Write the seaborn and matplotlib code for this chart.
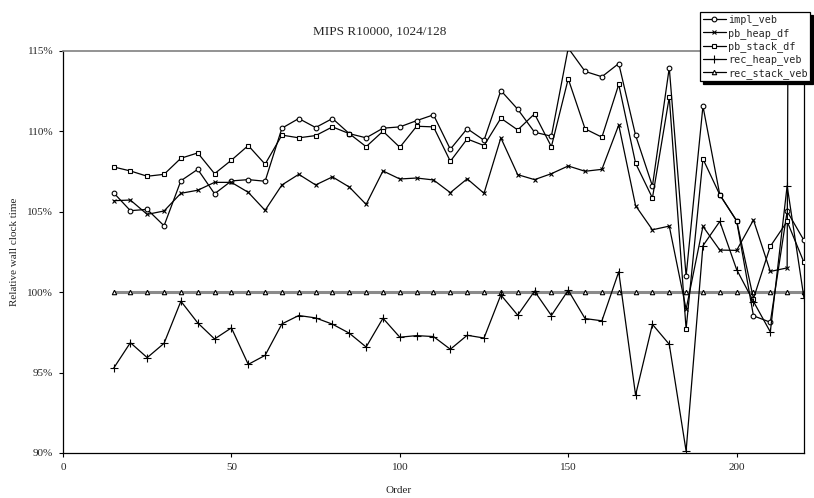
import matplotlib
matplotlib.use("Agg")
import matplotlib.pyplot as plt
from matplotlib.lines import Line2D
import seaborn as sns

# Problem order (x axis)
orders = list(range(15, 225, 5))

# Relative wall clock time (%) per layout variant
impl_veb = [106.19, 105.07, 105.15, 104.13, 106.93, 107.64, 106.12, 106.92, 107.00, 106.90,
            110.20, 110.80, 110.24, 110.80, 109.86, 109.60, 110.20, 110.28, 110.67, 111.03,
            108.89, 110.17, 109.45, 112.54, 111.38, 109.95, 109.70, 115.18, 113.73, 113.40,
            114.22, 109.76, 106.60, 113.96, 101.00, 111.57, 106.06, 104.44, 98.53, 98.13,
            105.03, 103.22]
pb_heap_df = [105.69, 105.73, 104.84, 105.05, 106.15, 106.34, 106.83, 106.83, 106.21, 105.09,
              106.67, 107.33, 106.67, 107.17, 106.54, 105.46, 107.54, 107.04, 107.10, 106.98,
              106.19, 107.05, 106.15, 109.60, 107.31, 107.00, 107.37, 107.85, 107.52, 107.64,
              110.40, 105.38, 103.88, 104.11, 98.94, 104.09, 102.62, 102.60, 104.49, 101.29,
              101.51, 400.0]
pb_stack_df = [107.79, 107.54, 107.21, 107.33, 108.33, 108.66, 107.37, 108.21, 109.12, 107.96,
               109.77, 109.60, 109.74, 110.28, 109.86, 109.05, 110.01, 109.01, 110.32, 110.28,
               108.14, 109.53, 109.12, 110.82, 110.09, 111.09, 109.05, 113.27, 110.16, 109.64,
               112.92, 108.02, 105.86, 112.13, 97.71, 108.29, 106.06, 104.44, 99.60, 102.85,
               104.40, 101.85]
rec_heap_veb = [95.26, 96.86, 95.93, 96.82, 99.44, 98.09, 97.09, 97.78, 95.51, 96.07,
                98.03, 98.55, 98.40, 98.01, 97.45, 96.59, 98.38, 97.20, 97.30, 97.24,
                96.45, 97.32, 97.15, 99.83, 98.57, 100.06, 98.55, 100.12, 98.36, 98.22,
                101.27, 93.60, 98.00, 96.76, 90.12, 102.89, 104.40, 101.41, 99.42, 97.53,
                106.62, 99.63]
rec_stack_veb = [100.0] * len(orders)

series_names = ["impl_veb", "pb_heap_df", "pb_stack_df", "rec_heap_veb", "rec_stack_veb"]
series_values = [impl_veb, pb_heap_df, pb_stack_df, rec_heap_veb, rec_stack_veb]
series_markers = ["o", "x", "s", "+", "^"]
series_msize = [3.4, 3.4, 3.4, 5.4, 3.2]

y_ticks = [90, 95, 100, 105, 110, 115]
y_tick_labels = [f"{v}%" for v in y_ticks]
x_ticks = [0, 50, 100, 150, 200]

sns.set_style("white")
plt.rcParams["font.family"] = ["Liberation Serif", "DejaVu Serif"]

fig = plt.figure(figsize=(8.14, 4.98), dpi=100)
ax = fig.add_axes([0.0774, 0.0904, 0.9103, 0.8072])

for name, vals, mk, ms in zip(series_names, series_values, series_markers, series_msize):
    is_ref = name == "rec_stack_veb"
    sns.lineplot(x=orders, y=vals, ax=ax, sort=False, estimator=None,
                 color="#8a8a8a" if is_ref else "black",
                 linewidth=2.2 if is_ref else 0.9,
                 marker=mk, markersize=ms, markerfacecolor="white",
                 markeredgecolor="black", markeredgewidth=0.8,
                 zorder=2 if is_ref else 3)

ax.set_xlim(0, 220)
ax.set_ylim(90, 115)
ax.set_xticks(x_ticks)
ax.set_xticklabels([str(v) for v in x_ticks], fontsize=8)
ax.set_yticks(y_ticks)
ax.set_yticklabels(y_tick_labels, fontsize=8)
ax.tick_params(axis="both", direction="out", length=3, width=0.8, color="black",
               pad=4, bottom=True, left=True)

for side in ["left", "bottom", "right"]:
    ax.spines[side].set_color("black")
    ax.spines[side].set_linewidth(0.9)
ax.spines["top"].set_color("#808080")
ax.spines["top"].set_linewidth(1.2)

ax.set_xlabel("Order", fontsize=8)
ax.xaxis.set_label_coords(0.4534, -0.081)
ax.set_ylabel("Relative wall clock time", fontsize=8)
ax.yaxis.set_label_coords(-0.059, 0.5)
ax.set_title("MIPS R10000, 1024/128", fontsize=9.5, x=0.428, pad=12)

handles = [Line2D([], [], color="black", linewidth=0.9, marker=mk, markersize=ms,
                  markerfacecolor="white", markeredgecolor="black", markeredgewidth=0.8)
           for mk, ms in zip(series_markers, series_msize)]
leg = fig.legend(handles, series_names, loc="upper left",
                 bbox_to_anchor=(700 / 814, 1 - 12 / 498),
                 prop={"family": "DejaVu Sans Mono", "size": 7.3},
                 frameon=True, fancybox=False, framealpha=1,
                 edgecolor="black", borderpad=0.25, labelspacing=0.24,
                 handlelength=2.3, handletextpad=0.2, borderaxespad=0,
                 shadow={"facecolor": "black", "edgecolor": "black", "alpha": 1})
leg.get_frame().set_linewidth(0.9)

fig.savefig("out.png", dpi=100, facecolor="white")
